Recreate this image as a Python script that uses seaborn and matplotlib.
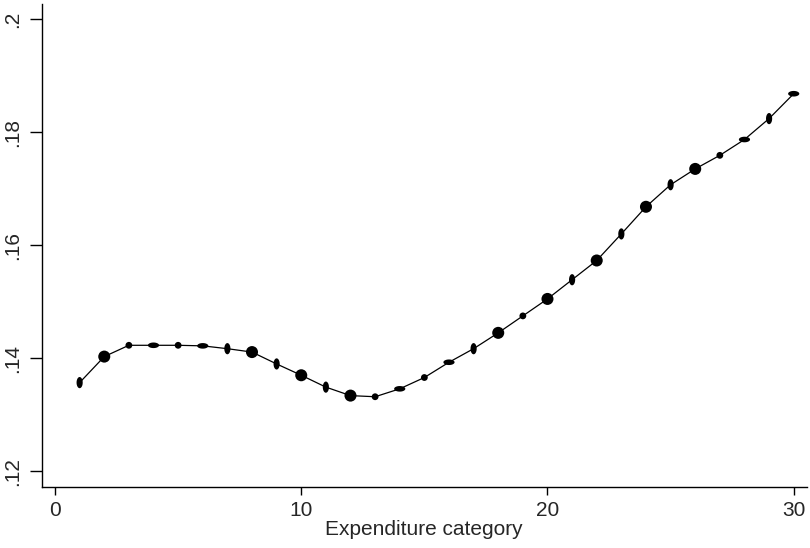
import numpy as np
import pandas as pd
import seaborn as sns
import matplotlib.pyplot as plt
from matplotlib.path import Path

# data
category = list(range(1, 31))
share = [0.1357, 0.1403, 0.1423, 0.1423, 0.1423, 0.1422, 0.1417, 0.1411, 0.1390, 0.1370,
         0.1349, 0.1334, 0.1332, 0.1346, 0.1366, 0.1393, 0.1417, 0.1445, 0.1475, 0.1505,
         0.1539, 0.1573, 0.1620, 0.1668, 0.1707, 0.1735, 0.1759, 0.1787, 0.1824, 0.1868]
x_ticks = [0, 10, 20, 30]
y_ticks = [0.12, 0.14, 0.16, 0.18, 0.2]
y_tick_labels = [".12", ".14", ".16", ".18", ".2"]

# marker shapes as they appear in the scanned figure
marker_kind = ["vert", "dot", "small", "horiz", "small", "horiz", "vert", "dot", "vert", "dot",
               "vert", "dot", "small", "horiz", "small", "horiz", "vert", "dot", "small", "dot",
               "vert", "dot", "vert", "dot", "vert", "dot", "small", "horiz", "vert", "horiz"]


def ellipse(w, h):
    t = np.linspace(0, 2 * np.pi, 40)
    return Path(np.column_stack([w * np.cos(t), h * np.sin(t)]), closed=True)


df = pd.DataFrame({"category": category, "share": share, "kind": marker_kind})

sns.set_style("white")
plt.rcParams["font.family"] = ["Liberation Sans", "DejaVu Sans"]

fig = plt.figure(figsize=(8.1, 5.48), dpi=100)
ax = fig.add_axes([0.0515, 0.112, 0.9445, 0.881])

sns.lineplot(data=df, x="category", y="share", color="black", linewidth=0.9, ax=ax)
sns.scatterplot(data=df, x="category", y="share", style="kind", size="kind",
                markers={"dot": "o", "small": "o", "vert": ellipse(0.55, 1.0), "horiz": ellipse(1.0, 0.5)},
                sizes={"dot": 75, "small": 24, "vert": 65, "horiz": 65},
                color="black", edgecolor="black", linewidth=0, legend=False, ax=ax)

ax.set_xlim(-0.54, 30.53)
ax.set_ylim(0.1173, 0.2027)
ax.set_xticks(x_ticks)
ax.set_xticklabels([str(v) for v in x_ticks], fontsize=15)
ax.set_yticks(y_ticks)
ax.set_yticklabels(y_tick_labels, fontsize=15, rotation=90, va="center")
ax.set_xlabel("Expenditure category", fontsize=15, labelpad=0)
ax.set_ylabel("")

for side in ["top", "right"]:
    ax.spines[side].set_visible(False)
for side in ["left", "bottom"]:
    ax.spines[side].set_color("black")
    ax.spines[side].set_linewidth(1.0)
ax.tick_params(axis="y", direction="out", length=9, width=1, pad=5, left=True, color="black")
ax.tick_params(axis="x", direction="out", length=6, width=1, pad=4, bottom=True, color="black")

fig.savefig("out.png", dpi=100)
